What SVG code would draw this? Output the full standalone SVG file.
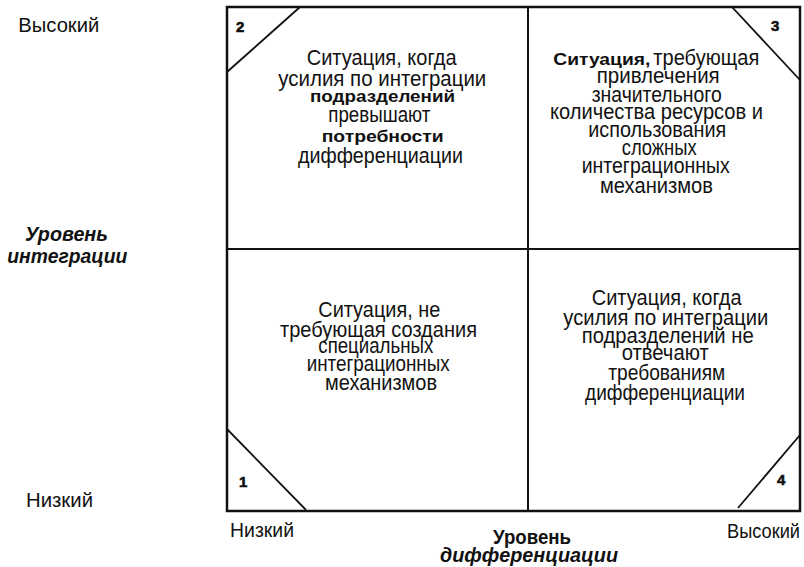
<svg xmlns="http://www.w3.org/2000/svg" width="804" height="567" viewBox="0 0 804 567">
<style>
  .t { font-family: "Liberation Sans", Arial, sans-serif; font-size: 22px; fill: #111; }
  .b { font-family: "Liberation Sans", Arial, sans-serif; font-size: 16px; font-weight: bold; fill: #111; }
  .num { font-family: "Liberation Sans", Arial, sans-serif; font-size: 15px; font-weight: bold; fill: #111; stroke: #111; stroke-width: 0.6; }
  .ax { font-family: "Liberation Sans", Arial, sans-serif; font-size: 21px; fill: #111; }
  .axb { font-family: "Liberation Sans", Arial, sans-serif; font-size: 20px; font-weight: bold; fill: #111; }
  .axbi { font-family: "Liberation Sans", Arial, sans-serif; font-size: 20px; font-weight: bold; font-style: italic; fill: #111; }
  .frame { fill: none; stroke: #111; stroke-width: 2.5; }
  .grid { stroke: #111; stroke-width: 2; fill: none; }
  .diag { stroke: #111; stroke-width: 1.8; fill: none; }
</style>
<rect width="804" height="567" fill="#fff"/>

<g id="connectors">
  <rect class="frame" x="227" y="7" width="573" height="504"/>
  <line class="grid" x1="528" y1="7" x2="528" y2="511"/>
  <line class="grid" x1="227" y1="249" x2="800" y2="249"/>
  <line class="diag" x1="227" y1="72" x2="300" y2="7"/>
  <line class="diag" x1="732" y1="7" x2="800" y2="80"/>
  <line class="diag" x1="227" y1="429" x2="306" y2="510"/>
  <line class="diag" x1="738" y1="508" x2="800" y2="435"/>
</g>

<g id="q2">
  <text class="num" x="236" y="32">2</text>
  <text class="t" x="306.7" y="65" textLength="150" lengthAdjust="spacingAndGlyphs">Ситуация,  когда</text>
  <text class="t" x="278.3" y="86" textLength="208" lengthAdjust="spacingAndGlyphs">усилия  по  интеграции</text>
  <text class="b" x="310" y="102" textLength="145" lengthAdjust="spacingAndGlyphs">подразделений</text>
  <text class="t" x="328.3" y="122" textLength="102" lengthAdjust="spacingAndGlyphs">превышают</text>
  <text class="b" x="321.7" y="142" textLength="122" lengthAdjust="spacingAndGlyphs">потребности</text>
  <text class="t" x="298" y="163" textLength="165" lengthAdjust="spacingAndGlyphs">дифференциации</text>
</g>

<g id="q3">
  <text class="num" x="771" y="31">3</text>
  <text class="b" x="553.3" y="65" textLength="97" lengthAdjust="spacingAndGlyphs">Ситуация,</text>
  <text class="t" x="653.3" y="65" textLength="106" lengthAdjust="spacingAndGlyphs">требующая</text>
  <text class="t" x="596.7" y="83.3" textLength="123" lengthAdjust="spacingAndGlyphs">привлечения</text>
  <text class="t" x="591.7" y="101.7" textLength="130" lengthAdjust="spacingAndGlyphs">значительного</text>
  <text class="t" x="550" y="119.3" textLength="213" lengthAdjust="spacingAndGlyphs">количества  ресурсов  и</text>
  <text class="t" x="588.3" y="136.7" textLength="138" lengthAdjust="spacingAndGlyphs">использования</text>
  <text class="t" x="621.7" y="155" textLength="75" lengthAdjust="spacingAndGlyphs">сложных</text>
  <text class="t" x="581.7" y="173.3" textLength="148" lengthAdjust="spacingAndGlyphs">интеграционных</text>
  <text class="t" x="600" y="192.7" textLength="113" lengthAdjust="spacingAndGlyphs">механизмов</text>
</g>

<g id="q1">
  <text class="num" x="239" y="487">1</text>
  <text class="t" x="318.3" y="317.3" textLength="122" lengthAdjust="spacingAndGlyphs">Ситуация,  не</text>
  <text class="t" x="280" y="336.7" textLength="197" lengthAdjust="spacingAndGlyphs">требующая  создания</text>
  <text class="t" x="318.3" y="352.5" textLength="115" lengthAdjust="spacingAndGlyphs">специальных</text>
  <text class="t" x="306.7" y="370.5" textLength="143" lengthAdjust="spacingAndGlyphs">интеграционных</text>
  <text class="t" x="325" y="390" textLength="112" lengthAdjust="spacingAndGlyphs">механизмов</text>
</g>

<g id="q4">
  <text class="num" x="777" y="485">4</text>
  <text class="t" x="591.7" y="305" textLength="150" lengthAdjust="spacingAndGlyphs">Ситуация, когда</text>
  <text class="t" x="563.3" y="325" textLength="205" lengthAdjust="spacingAndGlyphs">усилия  по  интеграции</text>
  <text class="t" x="581.7" y="343.3" textLength="172" lengthAdjust="spacingAndGlyphs">подразделений   не</text>
  <text class="t" x="621.7" y="360" textLength="87" lengthAdjust="spacingAndGlyphs">отвечают</text>
  <text class="t" x="608.3" y="380" textLength="117" lengthAdjust="spacingAndGlyphs">требованиям</text>
  <text class="t" x="585" y="400" textLength="160" lengthAdjust="spacingAndGlyphs">дифференциации</text>
</g>

<g id="y-axis">
  <text class="ax" x="18.3" y="32" textLength="81" lengthAdjust="spacingAndGlyphs">Высокий</text>
  <text class="axbi" x="25" y="241" textLength="83" lengthAdjust="spacingAndGlyphs">Уровень</text>
  <text class="axbi" x="7.3" y="263" textLength="120" lengthAdjust="spacingAndGlyphs">интеграции</text>
  <text class="ax" x="26" y="507" textLength="67" lengthAdjust="spacingAndGlyphs">Низкий</text>
</g>

<g id="x-axis">
  <text class="ax" x="230" y="537" textLength="64" lengthAdjust="spacingAndGlyphs">Низкий</text>
  <text class="ax" x="727" y="538" textLength="73" lengthAdjust="spacingAndGlyphs">Высокий</text>
  <text class="axb" x="493" y="544" textLength="78" lengthAdjust="spacingAndGlyphs">Уровень</text>
  <text class="axbi" x="440" y="561.5" textLength="178" lengthAdjust="spacingAndGlyphs">дифференциации</text>
</g>
</svg>
